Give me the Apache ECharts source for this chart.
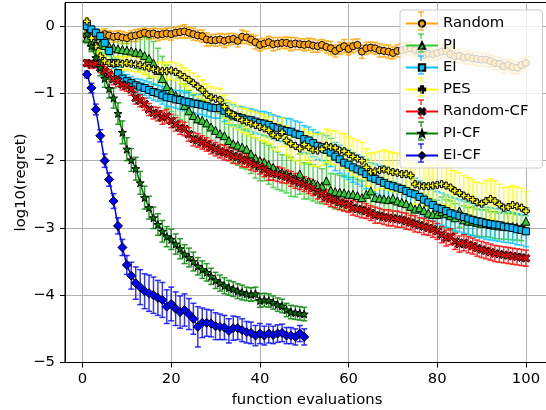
<!DOCTYPE html>
<html>
<head>
<meta charset="utf-8">
<script src="https://cdn.jsdelivr.net/npm/echarts@6/dist/echarts.min.js"></script>
<style>
html, body { margin: 0; padding: 0; background: #fff; }
#chart { width: 546px; height: 410px; }
</style>
</head>
<body>
<div id="chart"></div>
<script>
// function evaluations 1..100 (the -CF runs stop at 50)
var evals = Array.from({ length: 100 }, function (_, i) { return i + 1; });
var xTicks = [0, 20, 40, 60, 80, 100];
var yTicks = [-5, -4, -3, -2, -1, 0];

var names = ['Random', 'PI', 'EI', 'PES', 'Random-CF', 'PI-CF', 'EI-CF'];

var randomMean = [
  -0.15,-0.13,-0.16,-0.15,-0.12,-0.14,-0.16,-0.15,-0.17,-0.18,
  -0.15,-0.14,-0.12,-0.10,-0.12,-0.11,-0.13,-0.12,-0.11,-0.12,
  -0.10,-0.09,-0.08,-0.10,-0.12,-0.14,-0.15,-0.20,-0.21,-0.21,
  -0.20,-0.22,-0.20,-0.19,-0.22,-0.16,-0.17,-0.20,-0.24,-0.28,
  -0.26,-0.24,-0.27,-0.26,-0.25,-0.25,-0.27,-0.26,-0.27,-0.28,
  -0.27,-0.29,-0.30,-0.28,-0.31,-0.33,-0.37,-0.33,-0.30,-0.34,
  -0.30,-0.28,-0.38,-0.33,-0.32,-0.33,-0.36,-0.37,-0.38,-0.40,
  -0.37,-0.36,-0.34,-0.33,-0.36,-0.38,-0.43,-0.41,-0.42,-0.40,
  -0.38,-0.37,-0.42,-0.45,-0.44,-0.47,-0.46,-0.48,-0.49,-0.50,
  -0.50,-0.52,-0.55,-0.56,-0.60,-0.58,-0.61,-0.62,-0.58,-0.55
];
var randomErr = [
  0.08,0.07,0.08,0.09,0.08,0.07,0.08,0.08,0.09,0.08,
  0.08,0.09,0.08,0.07,0.08,0.08,0.09,0.08,0.08,0.09,
  0.08,0.09,0.10,0.08,0.09,0.08,0.09,0.10,0.08,0.09,
  0.09,0.10,0.09,0.08,0.09,0.10,0.09,0.08,0.10,0.09,
  0.08,0.09,0.10,0.09,0.08,0.09,0.10,0.09,0.08,0.09,
  0.09,0.10,0.09,0.08,0.09,0.10,0.09,0.09,0.10,0.09,
  0.10,0.09,0.10,0.09,0.08,0.09,0.10,0.09,0.10,0.09,
  0.09,0.10,0.09,0.10,0.09,0.10,0.09,0.10,0.09,0.10,
  0.10,0.09,0.10,0.09,0.10,0.09,0.10,0.09,0.10,0.09,
  0.10,0.09,0.10,0.09,0.10,0.09,0.10,0.09,0.10,0.09
];

var piMean = [
  -0.18,-0.24,-0.26,-0.27,-0.29,-0.30,-0.32,-0.34,-0.35,-0.36,
  -0.37,-0.39,-0.40,-0.44,-0.48,-0.55,-0.66,-0.78,-0.90,-0.97,
  -1.03,-1.08,-1.18,-1.26,-1.33,-1.38,-1.40,-1.44,-1.50,-1.55,
  -1.60,-1.63,-1.70,-1.75,-1.77,-1.80,-1.83,-1.90,-1.96,-2.00,
  -2.02,-2.06,-2.10,-2.15,-2.18,-2.20,-2.24,-2.27,-2.20,-2.30,
  -2.31,-2.33,-2.36,-2.38,-2.30,-2.44,-2.46,-2.47,-2.48,-2.50,
  -2.50,-2.52,-2.55,-2.50,-2.45,-2.55,-2.56,-2.57,-2.58,-2.56,
  -2.60,-2.62,-2.64,-2.68,-2.72,-2.70,-2.74,-2.78,-2.80,-2.80,
  -2.76,-2.79,-2.82,-2.85,-2.75,-2.88,-2.90,-2.90,-2.92,-2.93,
  -2.93,-2.95,-2.96,-2.97,-2.97,-2.98,-2.98,-2.99,-3.00,-2.90
];
var piErr = [
  0.08,0.10,0.10,0.12,0.12,0.14,0.15,0.16,0.18,0.20,
  0.22,0.24,0.25,0.28,0.30,0.32,0.33,0.33,0.32,0.30,
  0.30,0.31,0.32,0.30,0.30,0.29,0.30,0.31,0.30,0.30,
  0.30,0.29,0.30,0.28,0.30,0.31,0.30,0.29,0.30,0.30,
  0.28,0.29,0.30,0.28,0.27,0.28,0.29,0.27,0.30,0.27,
  0.26,0.27,0.27,0.26,0.30,0.25,0.26,0.25,0.26,0.25,
  0.25,0.24,0.25,0.26,0.28,0.24,0.25,0.24,0.25,0.24,
  0.23,0.24,0.23,0.22,0.23,0.22,0.23,0.22,0.22,0.21,
  0.22,0.21,0.22,0.21,0.24,0.21,0.20,0.21,0.20,0.20,
  0.20,0.19,0.20,0.19,0.20,0.19,0.20,0.19,0.19,0.20
];

var eiMean = [
   0.00,-0.05,-0.10,-0.15,-0.25,-0.37,-0.55,-0.70,-0.78,-0.82,
  -0.85,-0.88,-0.90,-0.92,-0.95,-0.98,-1.00,-1.03,-1.06,-1.07,
  -1.09,-1.10,-1.12,-1.13,-1.15,-1.16,-1.17,-1.19,-1.21,-1.22,
  -1.22,-1.26,-1.30,-1.33,-1.35,-1.37,-1.39,-1.40,-1.42,-1.44,
  -1.45,-1.47,-1.50,-1.52,-1.54,-1.56,-1.57,-1.60,-1.62,-1.68,
  -1.70,-1.74,-1.78,-1.80,-1.84,-1.88,-1.94,-1.98,-2.03,-2.06,
  -2.10,-2.13,-2.16,-2.20,-2.25,-2.27,-2.30,-2.33,-2.36,-2.38,
  -2.40,-2.42,-2.45,-2.48,-2.50,-2.54,-2.58,-2.62,-2.66,-2.70,
  -2.72,-2.75,-2.78,-2.80,-2.82,-2.84,-2.86,-2.88,-2.90,-2.91,
  -2.93,-2.94,-2.95,-2.96,-2.98,-2.99,-3.00,-3.02,-3.03,-3.05
];
var eiErr = [
  0.04,0.05,0.06,0.06,0.07,0.08,0.08,0.09,0.10,0.10,
  0.10,0.10,0.11,0.11,0.12,0.12,0.12,0.13,0.13,0.13,
  0.13,0.14,0.14,0.14,0.14,0.15,0.15,0.15,0.15,0.15,
  0.15,0.16,0.16,0.16,0.16,0.17,0.17,0.17,0.17,0.17,
  0.18,0.18,0.18,0.18,0.18,0.19,0.19,0.19,0.19,0.20,
  0.20,0.20,0.20,0.20,0.21,0.21,0.21,0.21,0.21,0.22,
  0.22,0.22,0.22,0.22,0.22,0.22,0.23,0.23,0.23,0.23,
  0.23,0.23,0.23,0.23,0.24,0.24,0.24,0.24,0.24,0.24,
  0.24,0.24,0.24,0.24,0.24,0.24,0.24,0.24,0.24,0.24,
  0.24,0.24,0.24,0.24,0.23,0.23,0.23,0.23,0.23,0.23
];

var pesMean = [
   0.07,-0.18,-0.30,-0.45,-0.52,-0.55,-0.56,-0.55,-0.56,-0.55,
  -0.56,-0.57,-0.58,-0.60,-0.62,-0.64,-0.66,-0.67,-0.67,-0.66,
  -0.68,-0.72,-0.76,-0.80,-0.85,-0.90,-0.95,-1.02,-1.06,-1.08,
  -1.10,-1.20,-1.28,-1.32,-1.36,-1.40,-1.42,-1.45,-1.47,-1.50,
  -1.52,-1.55,-1.62,-1.65,-1.58,-1.70,-1.75,-1.78,-1.82,-1.76,
  -1.80,-1.84,-1.85,-1.83,-1.78,-1.80,-1.81,-1.85,-1.86,-1.90,
  -1.94,-1.97,-2.00,-2.10,-2.17,-2.16,-2.14,-2.13,-2.15,-2.17,
  -2.18,-2.20,-2.20,-2.22,-2.35,-2.37,-2.38,-2.38,-2.37,-2.36,
  -2.35,-2.37,-2.40,-2.45,-2.48,-2.52,-2.55,-2.58,-2.62,-2.64,
  -2.60,-2.57,-2.60,-2.65,-2.70,-2.69,-2.66,-2.68,-2.70,-2.75
];
var pesErr = [
  0.05,0.08,0.10,0.10,0.10,0.10,0.10,0.10,0.10,0.10,
  0.11,0.11,0.11,0.12,0.12,0.12,0.12,0.13,0.13,0.13,
  0.13,0.14,0.14,0.14,0.15,0.15,0.15,0.16,0.16,0.16,
  0.17,0.17,0.17,0.18,0.18,0.18,0.19,0.19,0.19,0.20,
  0.20,0.20,0.21,0.21,0.21,0.22,0.22,0.22,0.23,0.23,
  0.23,0.24,0.24,0.24,0.25,0.25,0.25,0.26,0.26,0.26,
  0.27,0.27,0.27,0.28,0.28,0.28,0.28,0.29,0.29,0.29,
  0.29,0.29,0.30,0.30,0.30,0.30,0.30,0.30,0.30,0.30,
  0.30,0.30,0.30,0.30,0.30,0.30,0.30,0.30,0.30,0.30,
  0.30,0.30,0.30,0.30,0.30,0.30,0.29,0.29,0.29,0.29
];

var randomCfMean = [
  -0.55,-0.57,-0.56,-0.62,-0.67,-0.72,-0.79,-0.82,-0.87,-0.89,
  -0.94,-1.07,-1.11,-1.16,-1.24,-1.29,-1.31,-1.36,-1.34,-1.41,
  -1.46,-1.51,-1.53,-1.61,-1.68,-1.70,-1.73,-1.76,-1.80,-1.83,
  -1.86,-1.88,-1.90,-1.93,-1.95,-1.98,-2.00,-2.03,-2.06,-2.09,
  -2.13,-2.18,-2.19,-2.20,-2.22,-2.24,-2.27,-2.30,-2.33,-2.35,
  -2.38,-2.41,-2.46,-2.50,-2.54,-2.57,-2.59,-2.62,-2.64,-2.66,
  -2.70,-2.72,-2.73,-2.75,-2.78,-2.81,-2.82,-2.84,-2.85,-2.86,
  -2.87,-2.88,-2.90,-2.92,-2.94,-2.96,-2.98,-3.00,-3.02,-3.05,
  -3.10,-3.15,-3.13,-3.20,-3.24,-3.22,-3.25,-3.27,-3.30,-3.32,
  -3.34,-3.36,-3.38,-3.39,-3.40,-3.41,-3.42,-3.43,-3.44,-3.45
];
var randomCfErr = [
  0.05,0.06,0.06,0.07,0.07,0.07,0.08,0.08,0.08,0.08,
  0.09,0.09,0.09,0.09,0.09,0.09,0.10,0.10,0.10,0.10,
  0.10,0.10,0.10,0.10,0.10,0.10,0.10,0.10,0.10,0.10,
  0.10,0.11,0.10,0.11,0.10,0.11,0.10,0.11,0.10,0.11,
  0.11,0.11,0.10,0.11,0.11,0.10,0.11,0.11,0.10,0.11,
  0.11,0.11,0.11,0.11,0.11,0.11,0.11,0.11,0.11,0.11,
  0.11,0.11,0.12,0.11,0.11,0.12,0.11,0.11,0.12,0.11,
  0.12,0.11,0.12,0.11,0.12,0.11,0.12,0.11,0.12,0.12,
  0.12,0.12,0.12,0.12,0.12,0.12,0.12,0.12,0.12,0.12,
  0.12,0.12,0.12,0.12,0.12,0.12,0.12,0.12,0.12,0.12
];

var piCfMean = [
  -0.12,-0.30,-0.47,-0.62,-0.78,-0.93,-1.07,-1.30,-1.58,-1.83,
  -1.99,-2.12,-2.33,-2.55,-2.70,-2.85,-2.95,-3.05,-3.13,-3.17,
  -3.24,-3.31,-3.39,-3.44,-3.50,-3.57,-3.62,-3.66,-3.72,-3.78,
  -3.82,-3.86,-3.89,-3.91,-3.94,-3.96,-3.98,-3.99,-3.98,-4.08,
  -4.07,-4.08,-4.11,-4.14,-4.16,-4.22,-4.25,-4.26,-4.27,-4.28
];
var piCfErr = [
  0.05,0.08,0.10,0.12,0.13,0.14,0.15,0.16,0.17,0.17,
  0.17,0.17,0.17,0.17,0.17,0.16,0.16,0.16,0.15,0.15,
  0.15,0.15,0.14,0.14,0.14,0.13,0.13,0.13,0.12,0.12,
  0.12,0.12,0.11,0.11,0.11,0.11,0.10,0.10,0.10,0.10,
  0.10,0.10,0.10,0.10,0.10,0.10,0.10,0.10,0.10,0.10
];

var eiCfMean = [
  -0.72,-0.92,-1.24,-1.63,-2.00,-2.28,-2.60,-2.97,-3.29,-3.55,
  -3.71,-3.82,-3.88,-3.94,-3.97,-4.00,-4.04,-4.07,-4.17,-4.13,
  -4.20,-4.25,-4.22,-4.28,-4.35,-4.47,-4.41,-4.41,-4.42,-4.46,
  -4.47,-4.48,-4.53,-4.49,-4.49,-4.52,-4.55,-4.56,-4.60,-4.57,
  -4.60,-4.57,-4.59,-4.57,-4.56,-4.60,-4.60,-4.62,-4.57,-4.62
];
var eiCfErr = [
  0.05,0.07,0.08,0.09,0.10,0.10,0.11,0.12,0.12,0.14,
  0.20,0.24,0.26,0.26,0.27,0.27,0.26,0.26,0.25,0.25,
  0.25,0.24,0.24,0.23,0.23,0.30,0.22,0.20,0.20,0.20,
  0.19,0.18,0.18,0.18,0.17,0.17,0.16,0.16,0.15,0.15,
  0.14,0.14,0.13,0.13,0.13,0.12,0.12,0.12,0.12,0.12
];

var means = [randomMean, piMean, eiMean, pesMean, randomCfMean, piCfMean, eiCfMean];
var errs = [randomErr, piErr, eiErr, pesErr, randomCfErr, piCfErr, eiCfErr];
var colors = ['#ffa500', '#32cd32', '#00bfff', '#ffff00', '#ff0000', '#008000', '#0000ff'];

var starPath = 'path://M0,-10 L2.35,-3.24 L9.51,-3.09 L3.8,1.24 L5.88,8.09 L0,4 L-5.88,8.09 L-3.8,1.24 L-9.51,-3.09 L-2.35,-3.24 Z';
var xPath = 'path://M-10,-6 L-6,-10 L0,-4 L6,-10 L10,-6 L4,0 L10,6 L6,10 L0,4 L-6,10 L-10,6 L-4,0 Z';
var plusPath = 'path://M-3.4,-10 L3.4,-10 L3.4,-3.4 L10,-3.4 L10,3.4 L3.4,3.4 L3.4,10 L-3.4,10 L-3.4,3.4 L-10,3.4 L-10,-3.4 L-3.4,-3.4 Z';
var symbols = ['circle', 'triangle', 'rect', plusPath, xPath, starPath, 'diamond'];
var symbolSizes = [7, 8, 7, 7, 8, 8, 9];

var font = 'DejaVu Sans';
var fontSize = 14.8;

function minusFmt(v) {
    return v < 0 ? '\u2212' + Math.abs(v) : String(v);
}

function errRender(color) {
    return function (params, api) {
        var x = api.value(0);
        var lo = api.coord([x, api.value(1)]);
        var hi = api.coord([x, api.value(2)]);
        var cap = 3;
        var st = { stroke: color, lineWidth: 1.5, opacity: 0.8 };
        return {
            type: 'group',
            children: [
                { type: 'line', shape: { x1: lo[0], y1: lo[1], x2: hi[0], y2: hi[1] }, style: st },
                { type: 'line', shape: { x1: hi[0] - cap, y1: hi[1], x2: hi[0] + cap, y2: hi[1] }, style: st },
                { type: 'line', shape: { x1: lo[0] - cap, y1: lo[1], x2: lo[0] + cap, y2: lo[1] }, style: st }
            ]
        };
    };
}

var series = [];
// error bars first (under every line), then the lines with markers
for (var i = 0; i < names.length; i++) {
    var errData = [];
    for (var j = 0; j < means[i].length; j++) {
        errData.push([evals[j], means[i][j] - errs[i][j], means[i][j] + errs[i][j]]);
    }
    series.push({
        type: 'custom',
        name: names[i] + ' err',
        renderItem: errRender(colors[i]),
        data: errData,
        encode: { x: 0, y: [1, 2] },
        z: 2,
        silent: true,
        animation: false
    });
}
for (var i = 0; i < names.length; i++) {
    var lineData = [];
    for (var j = 0; j < means[i].length; j++) {
        lineData.push([evals[j], means[i][j]]);
    }
    series.push({
        type: 'line',
        name: names[i],
        data: lineData,
        symbol: symbols[i],
        symbolSize: symbolSizes[i],
        lineStyle: { color: colors[i], width: 1.5 },
        itemStyle: { color: colors[i], borderColor: '#000', borderWidth: 1 },
        z: 3,
        silent: true,
        animation: false,
        emphasis: { disabled: true }
    });
}

// little vertical error bars on the legend handles
var legendTop = 10, legendPad = 6, itemH = 8, rowH = 22;
var legendGraphics = [];
for (var i = 0; i < names.length; i++) {
    var cy = legendTop + legendPad + 5 + i * rowH;
    var cx = 421;
    var gst = { stroke: colors[i], lineWidth: 1.5, opacity: 0.8 };
    legendGraphics.push(
        { type: 'line', z: 100, shape: { x1: cx, y1: cy - 9, x2: cx, y2: cy - 4 }, style: gst },
        { type: 'line', z: 100, shape: { x1: cx, y1: cy + 4, x2: cx, y2: cy + 9 }, style: gst },
        { type: 'line', z: 100, shape: { x1: cx - 3, y1: cy - 9, x2: cx + 3, y2: cy - 9 }, style: gst },
        { type: 'line', z: 100, shape: { x1: cx - 3, y1: cy + 9, x2: cx + 3, y2: cy + 9 }, style: gst }
    );
}

var chart = echarts.init(document.getElementById('chart'), null, { renderer: 'canvas' });
chart.setOption({
    backgroundColor: '#fff',
    animation: false,
    textStyle: { fontFamily: font },
    grid: {
        left: 65, width: 484, top: 2.5, height: 360,
        outerBoundsMode: 'none',
        containLabel: false,
        show: true, borderColor: '#000', borderWidth: 1, backgroundColor: 'transparent'
    },
    legend: {
        data: names,
        orient: 'vertical',
        left: 400,
        top: legendTop,
        padding: [legendPad, 14, 5, 5],
        itemWidth: 32,
        itemHeight: itemH,
        itemGap: 7,
        itemTextGap: 11,
        backgroundColor: 'rgba(255,255,255,0.8)',
        borderColor: '#cccccc',
        borderWidth: 1,
        borderRadius: 3,
        textStyle: { fontFamily: font, fontSize: fontSize, color: '#000', lineHeight: 14 },
        selectedMode: false
    },
    graphic: legendGraphics,
    xAxis: {
        type: 'value',
        min: -3.95,
        max: 105.2,
        name: 'function evaluations',
        nameLocation: 'middle',
        nameGap: 30,
        nameTextStyle: { fontFamily: font, fontSize: fontSize, color: '#000' },
        axisLine: { onZero: false, lineStyle: { color: '#000', width: 1 } },
        axisTick: { show: true, inside: false, length: 5, lineStyle: { color: '#000' }, customValues: xTicks },
        axisLabel: { fontFamily: font, fontSize: fontSize, color: '#000', margin: 9, formatter: minusFmt, customValues: xTicks },
        splitLine: { show: true, lineStyle: { color: '#b0b0b0', width: 1 } }
    },
    yAxis: {
        type: 'value',
        min: -5,
        max: 0.35,
        name: 'log10(regret)',
        nameLocation: 'middle',
        nameGap: 36,
        nameMoveOverlap: false,
        nameTextStyle: { fontFamily: font, fontSize: fontSize, color: '#000' },
        axisLine: { onZero: false, lineStyle: { color: '#000', width: 1 } },
        axisTick: { show: true, inside: false, length: 5, lineStyle: { color: '#000' }, customValues: yTicks },
        axisLabel: { fontFamily: font, fontSize: fontSize, color: '#000', margin: 10, formatter: minusFmt, customValues: yTicks },
        splitLine: { show: true, lineStyle: { color: '#b0b0b0', width: 1 } }
    },
    series: series
});
</script>
</body>
</html>
